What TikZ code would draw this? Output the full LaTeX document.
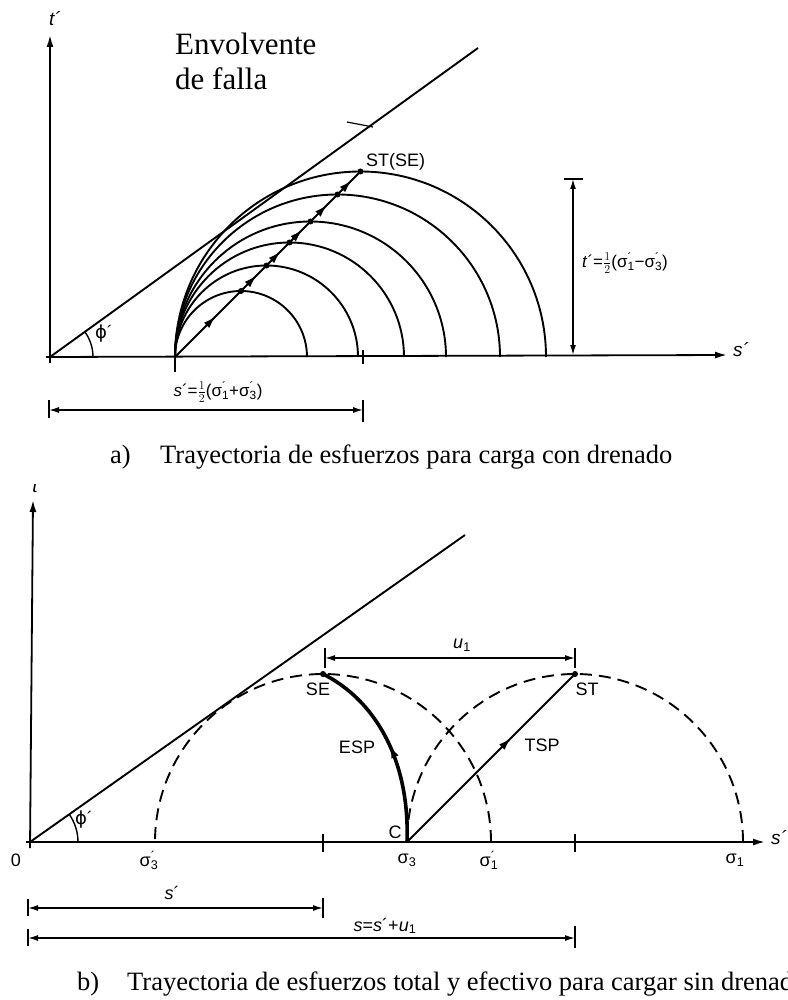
\documentclass[tikz,border=0pt]{standalone}
\usepackage{fontspec}
\setmainfont{Liberation Serif}
\newfontfamily\labfont{Liberation Sans}
\newfontfamily\symfont{DejaVu Sans}
\usetikzlibrary{arrows.meta,decorations.markings}
% sigma with prime over the index
\newcommand{\sgp}[1]{σ\rlap{\textsuperscript{´}}\textsubscript{#1}}
\newcommand{\sgn}[1]{σ\textsubscript{#1}}
\newcommand{\phip}{{\symfont ϕ}´}
\tikzset{
  axisline/.style={line width=1.8pt, -{Latex[length=12pt,width=7pt]}},
  envline/.style={line width=1.9pt},
  mohr/.style={line width=1.9pt},
  mohrdash/.style={line width=1.9pt, dash pattern=on 12pt off 7pt},
  dimline/.style={line width=1.4pt, {Latex[length=10pt,width=6pt]}-{Latex[length=10pt,width=6pt]}},
  tickmark/.style={line width=1.4pt},
  pathseg/.style={line width=1.9pt, postaction={decorate},
    decoration={markings, mark=at position 0.62 with {\arrow{Latex[length=13pt,width=7.5pt]}}}},
  esp/.style={line width=3.6pt, postaction={decorate},
    decoration={markings, mark=at position 0.5 with {\arrow{Latex[length=13pt,width=8pt]}}}},
  ptdot/.style={circle, fill, inner sep=0pt, minimum size=6pt},
  lab/.style={font=\labfont\fontsize{18}{20}\selectfont, inner sep=0pt},
  capt/.style={font=\fontsize{26.5}{30}\selectfont, anchor=base west, inner sep=0pt},
}
\begin{document}
\begin{tikzpicture}[x=1pt,y=-1pt]
  \useasboundingbox (0,0) rectangle (787,1000);

  % a) drained loading
  \coordinate (Oa) at (50,357);
  \coordinate (ta) at (50,35);
  \coordinate (sa) at (727,355);
  \coordinate (Ea) at (478,48);
  \draw[axisline] (50,363) -- (ta);
  \draw[axisline] (46,357) -- (sa);
  \draw[envline] (Oa) -- (Ea);
  \draw[line width=1.4pt] (93,357) arc[start angle=0, end angle=-35.8, radius=43];
  \node[lab] (phia) at (104,334) {\phip};
  \node[lab, font=\labfont\itshape\fontsize{19}{20}\selectfont] (tlab) at (55,19) {t´};
  \node[lab, font=\labfont\itshape\fontsize{19}{20}\selectfont] (slab) at (741,350) {s´};

  \foreach \e in {307,358,404,446,500,546}
    \draw[mohr] (\e,357) arc[start angle=0, end angle=-180, radius={(\e-175)/2}];
  \foreach \a/\b in {175/241,241/266.5,266.5/289.5,289.5/310.5,310.5/337.5,337.5/360.5}
    \draw[pathseg] (\a,{532-\a}) -- (\b,{532-\b});
  \foreach \c [count=\i] in {241,266.5,289.5,310.5,337.5,360.5}
    \node[ptdot] (p\i) at (\c,{532-\c}) {};
  \node[lab, anchor=base west] (stse) at (366,167) {ST(SE)};

  \node[font=\fontsize{31}{35}\selectfont, anchor=base west, align=left, inner sep=0pt]
    (env) at (175,90) {Envolvente\\de falla};
  \draw[line width=1.2pt] (347,122) -- (373,127);

  \draw[tickmark] (175,355) -- (175,372);
  \draw[tickmark] (363,350) -- (363,364);

  \coordinate (tt) at (573,179);
  \coordinate (tb) at (573,355);
  \draw[dimline] (tb) -- (tt);
  \draw[tickmark] (564,179) -- (583,179);
  \node[lab, anchor=west, font=\labfont\fontsize{17}{20}\selectfont] (tdim) at (582,263)
    {\textit{t}´=$\frac{1}{2}$(\sgp{1}−\sgp{3})};

  \coordinate (dl) at (49,410);
  \coordinate (dr) at (363,410);
  \draw[dimline] (dl) -- (dr);
  \draw[tickmark] (49,400) -- (49,418);
  \draw[tickmark] (363,400) -- (363,422);
  \node[lab, font=\labfont\fontsize{17}{20}\selectfont] (sdim) at (218,392)
    {\textit{s}´=$\frac{1}{2}$(\sgp{1}+\sgp{3})};

  \node[capt] (capa) at (110,463) {a)};
  \node[capt] (capatext) at (160,463) {Trayectoria de esfuerzos para carga con drenado};

  % b) undrained loading
  \coordinate (Ob) at (30,842);
  \coordinate (tb2) at (33,500);
  \coordinate (sb) at (765,842);
  \coordinate (Eb) at (465,535);
  \draw[axisline] (30,848) -- (tb2);
  \draw[axisline] (26,842) -- (sb);
  \begin{scope}
    \clip (20,484) rectangle (50,510);
    \node[lab, font=\labfont\itshape\fontsize{19}{20}\selectfont] (tblab) at (35,486) {t};
  \end{scope}
  \node[lab, anchor=west, font=\labfont\itshape\fontsize{19}{20}\selectfont] (sblab) at (771,838) {s´};
  \draw[envline] (Ob) -- (Eb);
  \draw[line width=1.4pt] (78,842) arc[start angle=0, end angle=-35.2, radius=48];
  \node[lab] (phib) at (84,820) {\phip};

  \coordinate (SE) at (323,674);
  \coordinate (ST) at (575,674);
  \coordinate (C) at (407,842);
  \draw[mohrdash] (491,842) arc[start angle=0, end angle=-180, radius=168];
  \draw[mohrdash] (743,842) arc[start angle=0, end angle=-180, radius=168];
  \draw[tickmark] (323,834) -- (323,852);
  \draw[tickmark] (575,834) -- (575,852);

  \draw[esp] (C) .. controls (410,760) and (375,700) .. (SE);
  \draw[pathseg] (C) -- (ST);
  \node[ptdot] (dSE) at (SE) {};
  \node[ptdot] (dST) at (ST) {};
  \node[lab] (lSE) at (318,689) {SE};
  \node[lab] (lST) at (587,689) {ST};
  \node[lab] (lESP) at (357,747) {ESP};
  \node[lab] (lTSP) at (542,745) {TSP};
  \node[lab] (lC) at (395,832) {C};

  \coordinate (ul) at (325,658);
  \coordinate (ur) at (575,658);
  \draw[dimline] (ul) -- (ur);
  \draw[tickmark] (325,648) -- (325,668);
  \draw[tickmark] (575,648) -- (575,668);
  \node[lab] (u1) at (462,645) {\textit{u}\textsubscript{1}};

  \node[lab] (l0) at (16,860) {0};
  \node[lab] (ls3p) at (149,860) {\sgp{3}};
  \node[lab] (ls3) at (407,860) {\sgn{3}};
  \node[lab] (ls1p) at (489,860) {\sgp{1}};
  \node[lab] (ls1) at (735,860) {\sgn{1}};

  \coordinate (d2l) at (28,908);
  \coordinate (d2r) at (323,908);
  \draw[dimline] (d2l) -- (d2r);
  \draw[tickmark] (28,899) -- (28,916);
  \draw[tickmark] (323,898) -- (323,918);
  \node[lab] (sp) at (172,893) {\textit{s}´};

  \coordinate (d3l) at (28,938);
  \coordinate (d3r) at (575,938);
  \draw[dimline] (d3l) -- (d3r);
  \draw[tickmark] (28,929) -- (28,946);
  \draw[tickmark] (575,926) -- (575,948);
  \node[lab] (stot) at (385,926) {\textit{s}=\textit{s}´+\textit{u}\textsubscript{1}};

  \node[capt] (capb) at (77,990) {b)};
  \node[capt] (capbtext) at (127,990) {Trayectoria de esfuerzos total y efectivo para cargar sin drenado};
\end{tikzpicture}
\end{document}
